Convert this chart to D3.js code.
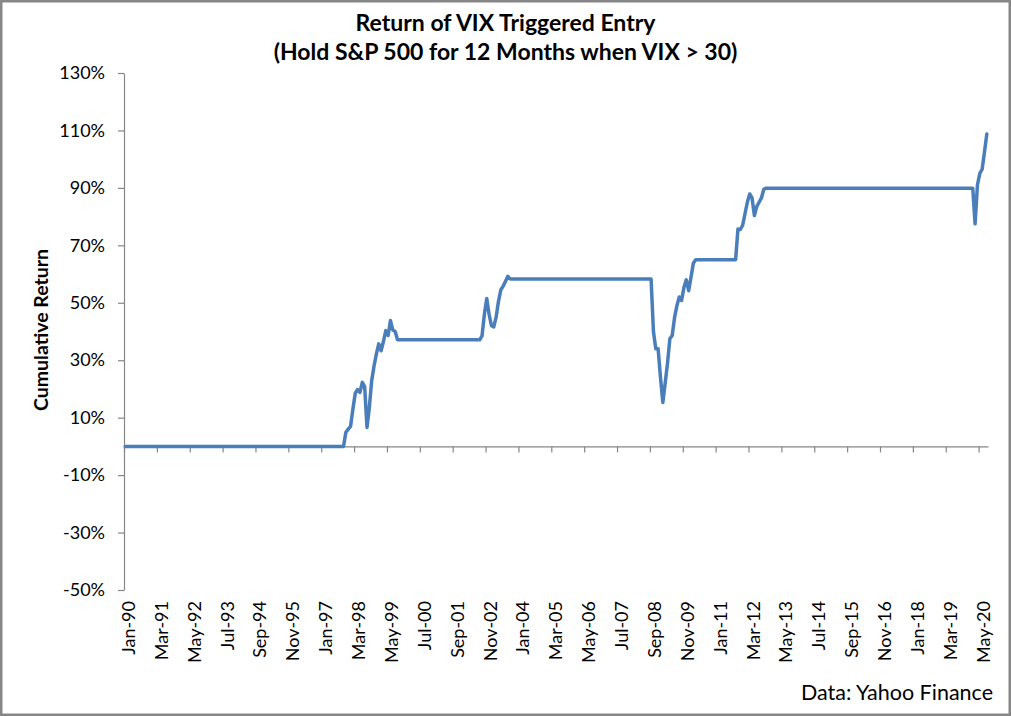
<!DOCTYPE html>
<html>
<head>
<meta charset="utf-8">
<script src="https://cdnjs.cloudflare.com/ajax/libs/d3/7.8.5/d3.min.js"></script>
<style>
  body { margin: 0; background: #fff; }
  svg text { font-family: Lato, "Open Sans", sans-serif; fill: #000; }
</style>
</head>
<body>
<div class="chart"></div>
<script>
// Cumulative return (%) per month, Jan-1990 .. Aug-2020, one row per year
var cumReturn = [
  0, 0, 0, 0, 0, 0, 0, 0, 0, 0, 0, 0,                                   // 1990
  0, 0, 0, 0, 0, 0, 0, 0, 0, 0, 0, 0,                                   // 1991
  0, 0, 0, 0, 0, 0, 0, 0, 0, 0, 0, 0,                                   // 1992
  0, 0, 0, 0, 0, 0, 0, 0, 0, 0, 0, 0,                                   // 1993
  0, 0, 0, 0, 0, 0, 0, 0, 0, 0, 0, 0,                                   // 1994
  0, 0, 0, 0, 0, 0, 0, 0, 0, 0, 0, 0,                                   // 1995
  0, 0, 0, 0, 0, 0, 0, 0, 0, 0, 0, 0,                                   // 1996
  0, 0, 0, 0, 0, 0, 0, 0, 0, 0, 4.9, 6,                                 // 1997
  7, 13, 18.5, 19.8, 18.8, 22.3, 20.8, 6.6, 13.6, 22.9, 28, 32.2,       // 1998
  35.7, 33.3, 36.5, 40.3, 38.6, 43.8, 40.5, 40, 37.1, 37.1, 37.1, 37.1, // 1999
  37.1, 37.1, 37.1, 37.1, 37.1, 37.1, 37.1, 37.1, 37.1, 37.1, 37.1, 37.1, // 2000
  37.1, 37.1, 37.1, 37.1, 37.1, 37.1, 37.1, 37.1, 37.1, 37.1, 37.1, 37.1, // 2001
  37.1, 37.1, 37.1, 37.1, 37.1, 37.1, 37.1, 37.1, 38.5, 46, 51.5, 46,   // 2002
  42, 41.6, 45, 50.5, 54.5, 55.8, 57.5, 59.2, 58.3, 58.3, 58.3, 58.3,   // 2003
  58.3, 58.3, 58.3, 58.3, 58.3, 58.3, 58.3, 58.3, 58.3, 58.3, 58.3, 58.3, // 2004
  58.3, 58.3, 58.3, 58.3, 58.3, 58.3, 58.3, 58.3, 58.3, 58.3, 58.3, 58.3, // 2005
  58.3, 58.3, 58.3, 58.3, 58.3, 58.3, 58.3, 58.3, 58.3, 58.3, 58.3, 58.3, // 2006
  58.3, 58.3, 58.3, 58.3, 58.3, 58.3, 58.3, 58.3, 58.3, 58.3, 58.3, 58.3, // 2007
  58.3, 58.3, 58.3, 58.3, 58.3, 58.3, 58.3, 58.3, 58.3, 40, 34, 34,     // 2008
  24, 15.3, 22, 29, 37.5, 38.6, 44.9, 49, 52, 50.8, 55.4, 58,           // 2009
  54.2, 58.9, 63.8, 65, 65, 65, 65, 65, 65, 65, 65, 65,                 // 2010
  65, 65, 65, 65, 65, 65, 65, 65, 65, 75.7, 75.5, 77,                   // 2011
  81, 85, 87.9, 86.5, 80.4, 83.5, 85, 86.5, 89.5, 89.9, 89.9, 89.9,     // 2012
  89.9, 89.9, 89.9, 89.9, 89.9, 89.9, 89.9, 89.9, 89.9, 89.9, 89.9, 89.9, // 2013
  89.9, 89.9, 89.9, 89.9, 89.9, 89.9, 89.9, 89.9, 89.9, 89.9, 89.9, 89.9, // 2014
  89.9, 89.9, 89.9, 89.9, 89.9, 89.9, 89.9, 89.9, 89.9, 89.9, 89.9, 89.9, // 2015
  89.9, 89.9, 89.9, 89.9, 89.9, 89.9, 89.9, 89.9, 89.9, 89.9, 89.9, 89.9, // 2016
  89.9, 89.9, 89.9, 89.9, 89.9, 89.9, 89.9, 89.9, 89.9, 89.9, 89.9, 89.9, // 2017
  89.9, 89.9, 89.9, 89.9, 89.9, 89.9, 89.9, 89.9, 89.9, 89.9, 89.9, 89.9, // 2018
  89.9, 89.9, 89.9, 89.9, 89.9, 89.9, 89.9, 89.9, 89.9, 89.9, 89.9, 89.9, // 2019
  89.9, 89.9, 77.5, 91, 95, 96.5, 102.5, 108.8                          // 2020
];

// Category labels shown on the x axis (every 14th month)
var tickLabels = ["Jan-90", "Mar-91", "May-92", "Jul-93", "Sep-94", "Nov-95", "Jan-97",
  "Mar-98", "May-99", "Jul-00", "Sep-01", "Nov-02", "Jan-04", "Mar-05", "May-06",
  "Jul-07", "Sep-08", "Nov-09", "Jan-11", "Mar-12", "May-13", "Jul-14", "Sep-15",
  "Nov-16", "Jan-18", "Mar-19", "May-20"];
var labelEvery = 14;

var yTicks = [-50, -30, -10, 10, 30, 50, 70, 90, 110, 130];

var svgWidth = 1011;
var svgHeight = 716;

var margin = {
  top: 73,
  right: 23,
  bottom: 126,
  left: 124
};

var width = svgWidth - margin.left - margin.right;
var height = svgHeight - margin.top - margin.bottom;

var svg = d3.select(".chart")
  .append("svg")
  .attr("width", svgWidth)
  .attr("height", svgHeight);

// outer frame
svg.append("rect")
  .attr("x", 1.25)
  .attr("y", 1.25)
  .attr("width", svgWidth - 2.5)
  .attr("height", svgHeight - 2.5)
  .attr("fill", "#fff")
  .attr("stroke", "#878787")
  .attr("stroke-width", 2.5);

var chartGroup = svg.append("g")
  .attr("transform", `translate(${margin.left}, ${margin.top})`);

// Scales: one slot per month, point sits in the middle of its slot
var nMonths = cumReturn.length;
var xScale = d3.scaleLinear()
  .domain([0, nMonths])
  .range([0, width]);

var yScale = d3.scaleLinear()
  .domain([-50, 130])
  .range([height, 0]);

// Axes
var leftAxis = d3.axisLeft(yScale)
  .tickValues(yTicks)
  .tickFormat(d => d + "%")
  .tickSize(6)
  .tickSizeOuter(0)
  .tickPadding(13);

var bottomAxis = d3.axisBottom(xScale)
  .tickValues(d3.range(0, nMonths, labelEvery))
  .tickFormat(i => tickLabels[i / labelEvery])
  .tickSize(6)
  .tickSizeOuter(0);

var yAxisG = chartGroup.append("g")
  .call(leftAxis);

var xAxisG = chartGroup.append("g")
  .attr("transform", `translate(0, ${yScale(0)})`)
  .call(bottomAxis);

[yAxisG, xAxisG].forEach(function(g) {
  g.attr("font-size", 18).attr("font-family", null);
  g.selectAll("path, line").attr("stroke", "#868686").attr("stroke-width", 1.2);
});

// x labels sit rotated below the plot area
xAxisG.selectAll("text")
  .attr("transform", "rotate(-90)")
  .attr("text-anchor", "end")
  .attr("x", -(height - yScale(0)) - 11)
  .attr("y", 3 + xScale(0.5))
  .attr("dy", "0.35em");

// Line
var line = d3.line()
  .x((d, i) => xScale(i + 0.5))
  .y(d => yScale(d));

chartGroup.append("path")
  .datum(cumReturn)
  .attr("d", line)
  .attr("fill", "none")
  .attr("stroke", "#4a7ebb")
  .attr("stroke-width", 3.5)
  .attr("stroke-linejoin", "round")
  .attr("stroke-linecap", "round");

// Titles
svg.append("text")
  .attr("x", svgWidth / 2)
  .attr("y", 31)
  .attr("text-anchor", "middle")
  .attr("font-size", 23)
  .attr("font-weight", "bold")
  .text("Return of VIX Triggered Entry");

svg.append("text")
  .attr("x", svgWidth / 2)
  .attr("y", 60)
  .attr("text-anchor", "middle")
  .attr("font-size", 23)
  .attr("font-weight", "bold")
  .text("(Hold S&P 500 for 12 Months when VIX > 30)");

svg.append("text")
  .attr("transform", "translate(48, 330) rotate(-90)")
  .attr("text-anchor", "middle")
  .attr("font-size", 19.5)
  .attr("font-weight", "bold")
  .text("Cumulative Return");

svg.append("text")
  .attr("x", 993)
  .attr("y", 700)
  .attr("text-anchor", "end")
  .attr("font-size", 21.5)
  .text("Data: Yahoo Finance");
</script>
</body>
</html>
